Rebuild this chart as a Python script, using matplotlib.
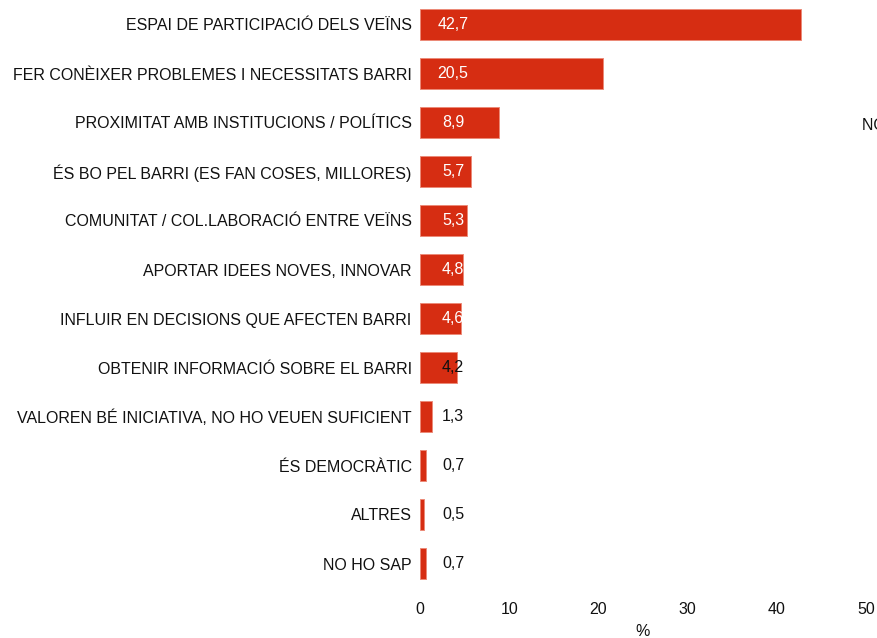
import matplotlib.pyplot as plt

plt.rcParams['font.family'] = ['Liberation Sans', 'DejaVu Sans']

categories = ["ESPAI DE PARTICIPACIÓ DELS VEÏNS",
              "FER CONÈIXER PROBLEMES I NECESSITATS BARRI",
              "PROXIMITAT AMB INSTITUCIONS / POLÍTICS",
              "ÉS BO PEL BARRI (ES FAN COSES, MILLORES)",
              "COMUNITAT / COL.LABORACIÓ ENTRE VEÏNS",
              "APORTAR IDEES NOVES, INNOVAR",
              "INFLUIR EN DECISIONS QUE AFECTEN BARRI",
              "OBTENIR INFORMACIÓ SOBRE EL BARRI",
              "VALOREN BÉ INICIATIVA, NO HO VEUEN SUFICIENT",
              "ÉS DEMOCRÀTIC",
              "ALTRES",
              "NO HO SAP"]
values = [42.7, 20.5, 8.9, 5.7, 5.3, 4.8, 4.6, 4.2, 1.3, 0.7, 0.5, 0.7]
xticks = [0, 10, 20, 30, 40, 50]

fs = 11.5
fig = plt.figure(figsize=(8.77, 6.38), dpi=100)
ax = fig.add_axes([420/877, 1-588/638, 446/877, 588/638])

y = list(range(len(values)))
ax.barh(y, values, height=0.64, color='#d62d12', edgecolor='#ec8a78', linewidth=0.7)

# value labels, white inside the larger bars
for i, v in enumerate(values):
    col = 'white' if v > 4.5 else '#111111'
    ax.text(3.7, i, f"{v:.1f}".replace('.', ','), ha='center', va='center',
            color=col, fontsize=fs)

ax.set_yticks(y)
ax.set_yticklabels(categories, fontsize=fs, color='#111111')
ax.set_xticks(xticks)
ax.set_xticklabels([str(t) for t in xticks], fontsize=fs, color='#111111')
ax.tick_params(length=0)
ax.tick_params(axis='x', pad=10)
ax.tick_params(axis='y', pad=6)
ax.set_xlim(0, 50)
ax.set_ylim(len(values) - 0.5, -0.5)
for s in ax.spines.values():
    s.set_visible(False)
ax.set_xlabel("%", fontsize=fs, color='#111111', labelpad=5)

# legend text clipped at the right edge, as in the original
fig.text(862/877, 1-125/638, "NO HO SAP", fontsize=fs, color='#111111', va='center')

fig.savefig("out.png", dpi=100)
